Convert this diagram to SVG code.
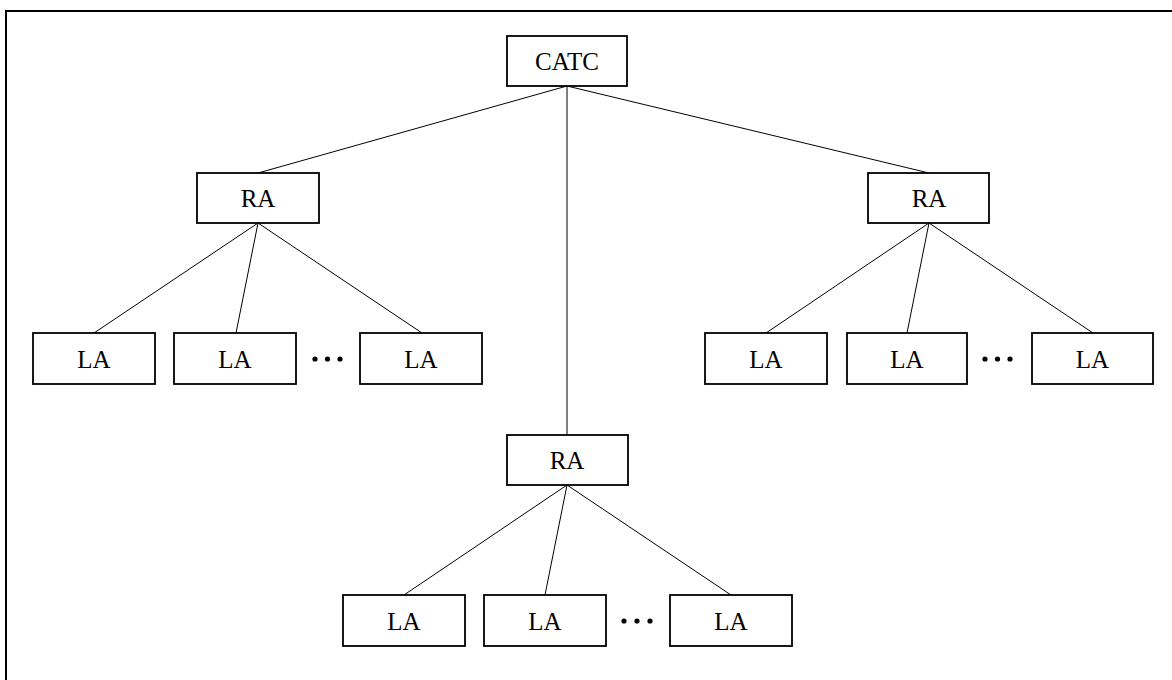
<svg xmlns="http://www.w3.org/2000/svg" width="1172" height="680" viewBox="0 0 1172 680">
<style>
.box{fill:#fff;stroke:#000;stroke-width:1.8}
.lbl{font-family:"Liberation Serif","Times New Roman",serif;font-size:25px;text-anchor:middle;fill:#000}
.con{stroke:#000;stroke-width:1;fill:none}
.dot{fill:#000}
</style>
<rect width="1172" height="680" fill="#fff"/>
<path d="M6 680 V11 H1172" fill="none" stroke="#000" stroke-width="2"/>
<g id="connectors" class="con">
<line x1="567" y1="86" x2="258" y2="173"/>
<line x1="567" y1="86" x2="567" y2="435"/>
<line x1="567" y1="86" x2="929" y2="173"/>
<line x1="258" y1="223" x2="94" y2="333"/>
<line x1="258" y1="223" x2="236" y2="333"/>
<line x1="258" y1="223" x2="422" y2="333"/>
<line x1="929" y1="223" x2="766" y2="333"/>
<line x1="929" y1="223" x2="907" y2="333"/>
<line x1="929" y1="223" x2="1093" y2="333"/>
<line x1="567" y1="485" x2="404" y2="595"/>
<line x1="567" y1="485" x2="545" y2="595"/>
<line x1="567" y1="485" x2="731" y2="595"/>
</g>
<g id="catc"><rect class="box" x="507" y="36" width="120" height="50"/><text class="lbl" x="567" y="69.5">CATC</text></g>
<g id="ra1"><rect class="box" x="197" y="173" width="122" height="50"/><text class="lbl" x="258" y="206.5">RA</text></g>
<g id="ra2"><rect class="box" x="868" y="173" width="121" height="50"/><text class="lbl" x="929" y="206.5">RA</text></g>
<g id="ra3"><rect class="box" x="507" y="435" width="121" height="50"/><text class="lbl" x="567" y="468.5">RA</text></g>
<g id="la1"><rect class="box" x="33" y="333" width="122" height="51"/><text class="lbl" x="94" y="367.5">LA</text></g>
<g id="la2"><rect class="box" x="174" y="333" width="122" height="51"/><text class="lbl" x="235" y="367.5">LA</text></g>
<g id="la3"><rect class="box" x="360" y="333" width="122" height="51"/><text class="lbl" x="421" y="367.5">LA</text></g>
<g id="la4"><rect class="box" x="705" y="333" width="122" height="51"/><text class="lbl" x="766" y="367.5">LA</text></g>
<g id="la5"><rect class="box" x="847" y="333" width="120" height="51"/><text class="lbl" x="907" y="367.5">LA</text></g>
<g id="la6"><rect class="box" x="1032" y="333" width="121" height="51"/><text class="lbl" x="1092.5" y="367.5">LA</text></g>
<g id="la7"><rect class="box" x="343" y="595" width="122" height="51"/><text class="lbl" x="404" y="629.5">LA</text></g>
<g id="la8"><rect class="box" x="484" y="595" width="122" height="51"/><text class="lbl" x="545" y="629.5">LA</text></g>
<g id="la9"><rect class="box" x="670" y="595" width="122" height="51"/><text class="lbl" x="731" y="629.5">LA</text></g>
<g id="dots1" class="dot"><circle cx="315" cy="359" r="2.6"/><circle cx="327.5" cy="359" r="2.6"/><circle cx="340" cy="359" r="2.6"/></g>
<g id="dots2" class="dot"><circle cx="985" cy="359" r="2.6"/><circle cx="997.5" cy="359" r="2.6"/><circle cx="1010" cy="359" r="2.6"/></g>
<g id="dots3" class="dot"><circle cx="624" cy="621" r="2.6"/><circle cx="637" cy="621" r="2.6"/><circle cx="650" cy="621" r="2.6"/></g>
</svg>
